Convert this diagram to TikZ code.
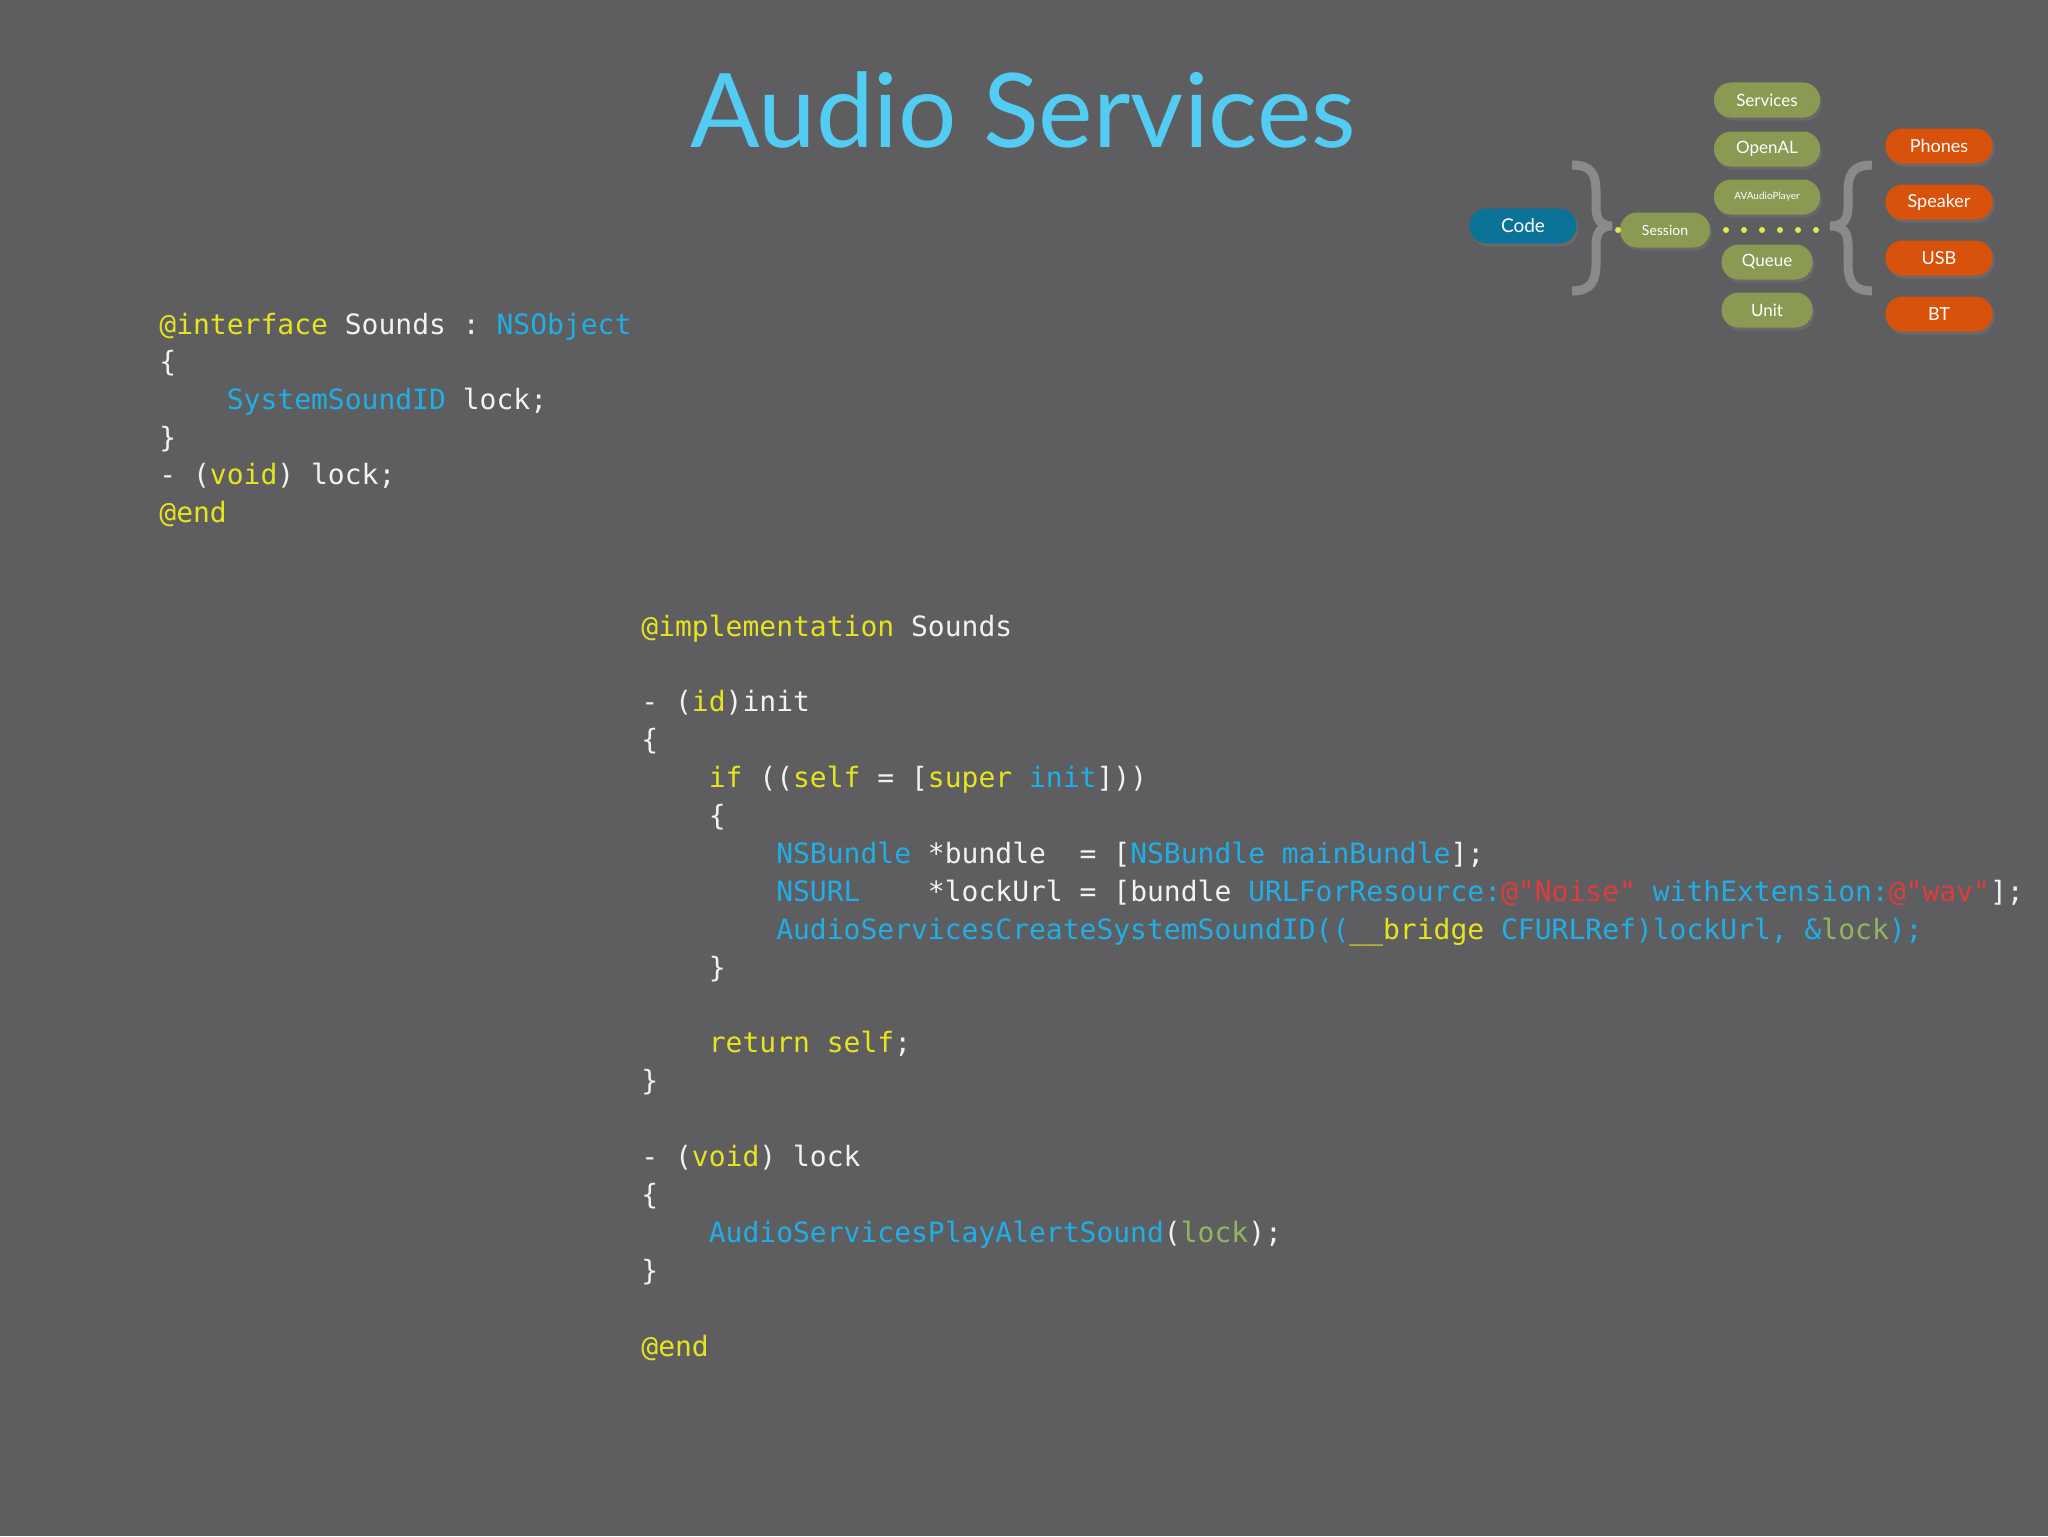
\documentclass[tikz,border=0pt]{standalone}
\usepackage{fontspec}
\setmainfont{Lato}
\setmonofont{DejaVu Sans Mono}
\usetikzlibrary{shadows}
\definecolor{bg}{HTML}{5E5D5F}
\definecolor{ky}{HTML}{E6E41E}
\definecolor{kb}{HTML}{1FAFE6}
\definecolor{kw}{HTML}{F2F2F2}
\definecolor{kr}{HTML}{E23B3B}
\definecolor{kg}{HTML}{93B560}
\definecolor{ttl}{HTML}{52CCF3}
\definecolor{olive}{HTML}{8A9A52}
\definecolor{cblue}{HTML}{0C7398}
\definecolor{orng}{HTML}{D8520C}
\definecolor{brc}{HTML}{8A898C}
\definecolor{dotc}{HTML}{E2E55A}
\newcommand{\K}[1]{\textcolor{ky}{#1}}
\newcommand{\B}[1]{\textcolor{kb}{#1}}
\newcommand{\R}[1]{\textcolor{kr}{#1}}
\newcommand{\G}[1]{\textcolor{kg}{#1}}
\begin{document}
\begin{tikzpicture}[x=0.5pt,y=-0.5pt,
  code/.style={anchor=base west,inner sep=0pt,text=kw,font=\fontsize{14}{16}\ttfamily},
  pill/.style={rounded corners=8.5pt,minimum height=17.5pt,inner sep=0pt,text=white,
    drop shadow={shadow xshift=1pt,shadow yshift=-1.5pt,opacity=0.35}},
  brace/.style={draw=brc,line width=4.5pt,line cap=butt},
  dot/.style={circle,fill=dotc,inner sep=0pt,minimum size=3pt}]
\fill[bg] (0,0) rectangle (2048,1536);
\useasboundingbox (0,0) rectangle (2048,1536);
\node[text=ttl,font=\fontsize{51.5}{60}\selectfont,anchor=base] (title) at (1023,148) {Audio Services};
% interface block
\foreach \i/\t in {0/{\K{@interface} Sounds : \B{NSObject}},1/{\{},2/{~~~~\B{SystemSoundID} lock;},3/{\}},4/{- (\K{void}) lock;},5/{\K{@end}}}
  \node[code] (l\i) at (159,{334+37.7*\i}) {\t};
% implementation block
\foreach \i/\t in {0/{\K{@implementation} Sounds},2/{- (\K{id})init},3/{\{},
  4/{~~~~\K{if} ((\K{self} = [\K{super} \B{init}]))},5/{~~~~\{},
  6/{~~~~~~~~\B{NSBundle} *bundle~~= [\B{NSBundle mainBundle}];},
  7/{~~~~~~~~\B{NSURL}~~~~*lockUrl = [bundle \B{URLForResource:}\R{@"Noise"} \B{withExtension:}\R{@"wav"}];},
  8/{~~~~~~~~\B{AudioServicesCreateSystemSoundID((}\K{\_\_bridge} \B{CFURLRef)lockUrl, \&}\G{lock}\B{);}},
  9/{~~~~\}},11/{~~~~\K{return self};},12/{\}},14/{- (\K{void}) lock},15/{\{},
  16/{~~~~\B{AudioServicesPlayAlertSound}(\G{lock});},17/{\}},19/{\K{@end}}}
  \node[code] (m\i) at (641,{636+37.9*\i}) {\t};
% diagram
\node[pill,fill=cblue,minimum width=53.5pt,font=\fontsize{9.5}{10}\selectfont] (code) at (1523,226) {Code};
\node[pill,fill=olive,minimum width=45pt,font=\fontsize{7}{8}\selectfont] (session) at (1665,230) {Session};
\foreach \n/\t/\y/\w/\f in {services/Services/100/53/8.5,openal/OpenAL/149/53/8.5,avap/AVAudioPlayer/197/53/5,queue/Queue/262/45.5/8.5,unit/Unit/310/45.5/8.5}
  \node[pill,fill=olive,minimum width=\w pt,font=\fontsize{\f}{9}\selectfont] (\n) at (1767,\y) {\t};
\foreach \n/\t/\y in {phones/Phones/146,speaker/Speaker/202,usb/USB/258,bt/BT/314}
  \node[pill,fill=orng,minimum width=53.5pt,font=\fontsize{9}{10}\selectfont] (\n) at (1939,\y) {\t};
\draw[brace] (1572,165) .. controls (1592,165) and (1596,175) .. (1596,192)
  -- (1596,207) .. controls (1596,221) and (1602,226) .. (1612,226)
  .. controls (1602,226) and (1596,231) .. (1596,245) -- (1596,263)
  .. controls (1596,280) and (1592,291) .. (1572,291);
\draw[brace] (1872,165) .. controls (1852,165) and (1848,175) .. (1848,192)
  -- (1848,207) .. controls (1848,221) and (1842,226) .. (1830,226)
  .. controls (1842,226) and (1848,231) .. (1848,245) -- (1848,263)
  .. controls (1848,280) and (1852,291) .. (1872,291);
\foreach \i/\x in {0/1618,1/1726,2/1744,3/1762,4/1780,5/1798,6/1816}
  \node[dot] (d\i) at (\x,230) {};
\end{tikzpicture}
\end{document}
